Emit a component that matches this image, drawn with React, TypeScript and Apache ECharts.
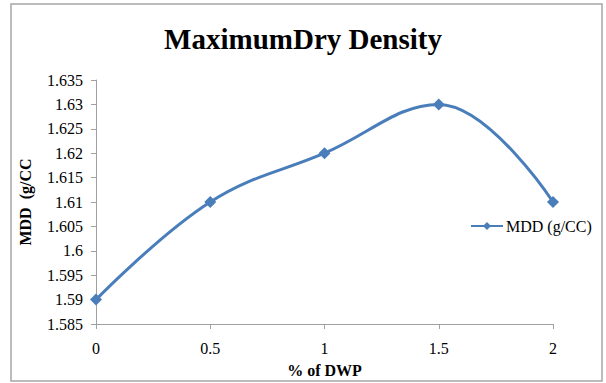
import React, { useEffect, useRef } from "react";
import * as echarts from "echarts";

const titleText = "MaximumDry Density";
const seriesName = "MDD (g/CC)";
const xAxisTitle = "% of DWP";
const yAxisTitle = "MDD  (g/CC";
const dwp = [0, 0.5, 1, 1.5, 2];
const mdd = [1.59, 1.61, 1.62, 1.63, 1.61];
const yMin = 1.585;
const yMax = 1.635;
const yStep = 0.005;

const FONT = "'Liberation Serif', 'Times New Roman', Times, serif";

export default function App() {
  const ref = useRef<HTMLDivElement>(null);
  useEffect(() => {
    if (!ref.current) return;
    const chart = echarts.init(ref.current, null, { renderer: "svg" });
    chart.setOption({
      animation: false,
      backgroundColor: "#ffffff",
      textStyle: { fontFamily: FONT },
      title: {
        text: titleText,
        left: "center",
        top: 19,
        textStyle: { fontFamily: FONT, fontSize: 29, fontWeight: "bold", color: "#000" },
      },
      legend: {
        left: 465,
        top: 213,
        itemWidth: 32,
        itemHeight: 10,
        itemGap: 4,
        textStyle: { fontFamily: FONT, fontSize: 16, color: "#000", padding: [0, 0, 0, -2] },
        data: [seriesName],
      },
      grid: { left: 96, right: 53, top: 80, bottom: 56, containLabel: false },
      xAxis: {
        type: "value",
        min: 0,
        max: 2,
        interval: 0.5,
        name: xAxisTitle,
        nameLocation: "middle",
        nameGap: 38,
        nameTextStyle: { fontFamily: FONT, fontSize: 16, fontWeight: "bold", color: "#000" },
        axisLine: { show: true, lineStyle: { color: "#a0a0a0", width: 1 } },
        axisTick: { show: true, length: 5, lineStyle: { color: "#a0a0a0" } },
        axisLabel: {
          margin: 16,
          fontFamily: FONT,
          fontSize: 16,
          color: "#000",
          formatter: (v: number) => String(+v.toFixed(2)),
        },
        splitLine: { show: false },
      },
      yAxis: {
        type: "value",
        min: yMin,
        max: yMax,
        interval: yStep,
        name: yAxisTitle,
        nameLocation: "middle",
        nameGap: 63,
        nameRotate: 90,
        nameTextStyle: { fontFamily: FONT, fontSize: 16, fontWeight: "bold", color: "#000" },
        axisLine: { show: true, lineStyle: { color: "#a0a0a0", width: 1 } },
        axisTick: { show: true, length: 5, lineStyle: { color: "#a0a0a0" } },
        axisLabel: {
          margin: 13,
          fontFamily: FONT,
          fontSize: 16,
          color: "#000",
          formatter: (v: number) => String(+v.toFixed(3)),
        },
        splitLine: { show: false },
      },
      series: [
        {
          name: seriesName,
          type: "line",
          data: dwp.map((x, i) => [x, mdd[i]]),
          smooth: 0.4,
          symbol: "diamond",
          symbolSize: 12,
          lineStyle: { color: "#4a7ebb", width: 3 },
          itemStyle: { color: "#4a7ebb" },
        },
      ],
      graphic: [
        {
          type: "rect",
          shape: { x: 11, y: 4, width: 591, height: 377 },
          style: { fill: "none", stroke: "#a6a6a6", lineWidth: 1.5 },
          silent: true,
        },
      ],
    });
    return () => chart.dispose();
  }, []);
  return (
    <div
      ref={ref}
      style={{ position: "absolute", left: 0, top: 0, width: 606, height: 383, background: "#fff" }}
    />
  );
}
